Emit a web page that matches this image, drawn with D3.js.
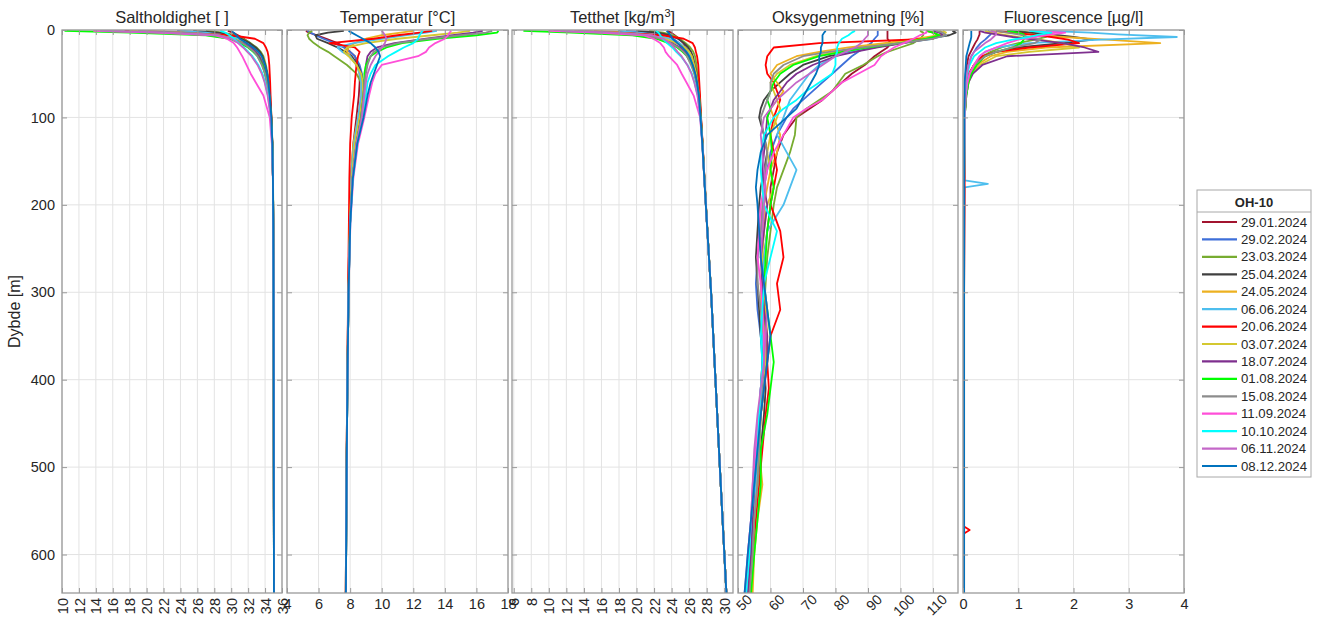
<!DOCTYPE html>
<html>
<head>
<meta charset="utf-8">
<script src="https://cdn.jsdelivr.net/npm/d3@7"></script>
<style>
  body { margin: 0; background: #fff; }
  text { font-family: "Liberation Sans", Arial, sans-serif; fill: #262626; }
</style>
</head>
<body>
<svg id="chart" width="1320" height="623"></svg>
<script>
// ---- data ----
const casts = ["29.01.2024", "29.02.2024", "23.03.2024", "25.04.2024", "24.05.2024", "06.06.2024",
  "20.06.2024", "03.07.2024", "18.07.2024", "01.08.2024", "15.08.2024", "11.09.2024",
  "10.10.2024", "06.11.2024", "08.12.2024"];
const castColors = ["#A2142F", "#3E6FD9", "#77AC30", "#404040", "#EDB120", "#4DBEEE",
  "#FF0000", "#D4C830", "#7E2F8E", "#00FF00", "#8C8C8C", "#FF4FD8",
  "#00FFFF", "#C467C8", "#0072BD"];

const depthTicks = [0, 100, 200, 300, 400, 500, 600];
const salinityTicks = [10, 12, 14, 16, 18, 20, 22, 24, 26, 28, 30, 32, 34, 36];
const temperatureTicks = [4, 6, 8, 10, 12, 14, 16, 18];
const densityTicks = [6, 8, 10, 12, 14, 16, 18, 20, 22, 24, 26, 28, 30];
const oxygenTicks = [50, 60, 70, 80, 90, 100, 110];
const fluorTicks = [0, 1, 2, 3, 4];

// depth levels (m) for salinity, temperature and density
const profileDepth = [1, 3, 6, 10, 15, 20, 25, 30, 40, 50, 60, 75, 100, 130, 170, 220, 300, 400, 500, 645];

const salinity = [
  [29.6, 30.2, 30.8, 31.5, 32.2, 32.7, 33.1, 33.4, 33.8, 34.1, 34.3, 34.5, 34.72, 34.85, 34.93, 34.97, 35.0, 35.02, 35.03, 35.05],
  [23.6, 27.5, 29.5, 30.6, 31.6, 32.3, 32.9, 33.3, 33.8, 34.1, 34.3, 34.5, 34.72, 34.86, 34.93, 34.97, 35.0, 35.02, 35.03, 35.05],
  [27.0, 29.0, 30.5, 31.4, 32.3, 33.0, 33.5, 33.8, 34.1, 34.3, 34.45, 34.6, 34.76, 34.87, 34.94, 34.98, 35.0, 35.02, 35.03, 35.05],
  [25.5, 28.5, 30.0, 31.2, 32.2, 32.9, 33.4, 33.7, 34.0, 34.25, 34.4, 34.55, 34.74, 34.86, 34.93, 34.97, 35.0, 35.02, 35.03, 35.05],
  [20.0, 25.5, 28.8, 30.5, 31.5, 32.3, 32.8, 33.2, 33.7, 34.0, 34.2, 34.45, 34.7, 34.85, 34.93, 34.97, 35.0, 35.02, 35.03, 35.05],
  [24.0, 27.0, 29.2, 30.8, 31.8, 32.5, 33.0, 33.3, 33.7, 34.0, 34.2, 34.45, 34.7, 34.85, 34.93, 34.97, 35.0, 35.02, 35.03, 35.05],
  [17.4, 24.0, 30.0, 32.8, 33.8, 34.1, 34.3, 34.4, 34.5, 34.55, 34.6, 34.65, 34.75, 34.86, 34.93, 34.97, 35.0, 35.02, 35.03, 35.05],
  [18.0, 24.5, 28.5, 30.3, 31.6, 32.5, 33.1, 33.5, 33.9, 34.2, 34.35, 34.5, 34.72, 34.85, 34.93, 34.97, 35.0, 35.02, 35.03, 35.05],
  [15.0, 22.0, 27.5, 30.0, 31.4, 32.3, 32.9, 33.3, 33.8, 34.1, 34.3, 34.5, 34.72, 34.85, 34.93, 34.97, 35.0, 35.02, 35.03, 35.05],
  [10.3, 18.0, 27.0, 29.8, 31.0, 32.0, 32.6, 33.1, 33.7, 34.0, 34.25, 34.5, 34.72, 34.85, 34.93, 34.97, 35.0, 35.02, 35.03, 35.05],
  [19.0, 25.0, 28.5, 30.2, 31.3, 32.1, 32.7, 33.1, 33.6, 34.0, 34.2, 34.45, 34.7, 34.85, 34.93, 34.97, 35.0, 35.02, 35.03, 35.05],
  [13.7, 21.0, 28.0, 29.5, 30.3, 30.7, 31.0, 31.3, 31.8, 32.3, 32.9, 33.8, 34.55, 34.8, 34.92, 34.97, 35.0, 35.02, 35.03, 35.05],
  [28.7, 29.3, 29.8, 30.3, 30.9, 31.5, 32.0, 32.5, 33.2, 33.7, 34.0, 34.35, 34.68, 34.84, 34.93, 34.97, 35.0, 35.02, 35.03, 35.05],
  [14.5, 22.0, 28.3, 30.0, 30.8, 31.4, 31.9, 32.4, 33.1, 33.6, 33.95, 34.3, 34.66, 34.84, 34.93, 34.97, 35.0, 35.02, 35.03, 35.05],
  [30.0, 30.3, 30.6, 31.0, 31.8, 32.6, 33.2, 33.6, 34.0, 34.25, 34.4, 34.55, 34.74, 34.86, 34.93, 34.97, 35.0, 35.02, 35.03, 35.05]
];

const temperature = [
  [5.2, 5.4, 5.9, 6.5, 7.2, 7.7, 8.0, 8.3, 8.5, 8.6, 8.6, 8.55, 8.4, 8.2, 8.05, 7.96, 7.88, 7.82, 7.77, 7.72],
  [5.3, 5.5, 5.8, 6.3, 7.0, 7.6, 8.0, 8.3, 8.6, 8.75, 8.8, 8.75, 8.55, 8.3, 8.1, 7.98, 7.9, 7.83, 7.78, 7.73],
  [5.6, 5.4, 5.3, 5.4, 5.7, 6.1, 6.6, 7.0, 7.8, 8.4, 8.7, 8.8, 8.7, 8.4, 8.15, 8.0, 7.9, 7.83, 7.78, 7.73],
  [7.6, 6.6, 5.8, 5.9, 6.6, 7.2, 7.7, 8.1, 8.5, 8.7, 8.8, 8.8, 8.6, 8.3, 8.1, 7.98, 7.9, 7.83, 7.78, 7.73],
  [12.0, 11.2, 10.0, 9.0, 8.3, 7.9, 7.8, 8.0, 8.4, 8.6, 8.7, 8.7, 8.5, 8.2, 8.05, 7.96, 7.88, 7.82, 7.77, 7.72],
  [13.5, 12.8, 11.5, 10.0, 8.2, 7.2, 7.5, 8.0, 8.4, 8.6, 8.7, 8.7, 8.5, 8.25, 8.05, 7.96, 7.88, 7.82, 7.77, 7.72],
  [13.2, 12.4, 11.0, 9.5, 6.7, 8.3, 8.6, 8.5, 8.4, 8.35, 8.3, 8.25, 8.1, 8.0, 7.95, 7.92, 7.87, 7.82, 7.77, 7.72],
  [15.6, 14.8, 13.2, 11.0, 9.0, 7.8, 7.6, 7.9, 8.4, 8.7, 8.8, 8.8, 8.6, 8.3, 8.1, 7.98, 7.9, 7.83, 7.78, 7.73],
  [16.4, 15.8, 14.5, 12.8, 10.8, 9.7, 9.3, 9.1, 9.0, 8.95, 8.9, 8.85, 8.7, 8.4, 8.15, 8.0, 7.9, 7.83, 7.78, 7.73],
  [17.4, 17.3, 16.0, 13.5, 11.3, 10.3, 9.7, 9.3, 9.0, 8.9, 8.9, 8.85, 8.7, 8.4, 8.15, 8.0, 7.9, 7.83, 7.78, 7.73],
  [17.0, 16.6, 15.0, 13.0, 11.0, 10.0, 9.5, 9.3, 9.1, 9.0, 8.9, 8.85, 8.7, 8.4, 8.15, 8.0, 7.9, 7.83, 7.78, 7.73],
  [14.4, 14.3, 14.2, 14.0, 13.4, 13.0, 12.8, 12.3, 10.0, 9.6, 9.4, 9.2, 8.9, 8.5, 8.2, 8.02, 7.9, 7.83, 7.78, 7.73],
  [12.6, 12.5, 12.4, 12.3, 12.0, 11.4, 10.9, 10.4, 9.6, 9.3, 9.1, 9.0, 8.8, 8.45, 8.17, 8.01, 7.9, 7.83, 7.78, 7.73],
  [10.0, 10.1, 10.2, 10.3, 10.2, 10.0, 9.8, 9.6, 9.3, 9.1, 9.0, 8.9, 8.75, 8.4, 8.15, 8.0, 7.9, 7.83, 7.78, 7.73],
  [7.9, 8.1, 8.4, 8.8, 9.3, 9.6, 9.8, 9.9, 9.7, 9.5, 9.3, 9.1, 8.85, 8.45, 8.17, 8.01, 7.9, 7.83, 7.78, 7.73]
];

const density = [
  [23.5, 23.95, 24.35, 24.87, 25.33, 25.67, 25.95, 26.16, 26.47, 26.73, 26.93, 27.12, 27.32, 27.52, 27.74, 28.02, 28.5, 29.0, 29.5, 30.25],
  [18.8, 21.84, 23.38, 24.19, 24.89, 25.36, 25.79, 26.08, 26.45, 26.72, 26.9, 27.14, 27.33, 27.52, 27.74, 28.02, 28.5, 29.0, 29.5, 30.25],
  [21.43, 23.02, 24.22, 24.93, 25.61, 26.13, 26.47, 26.67, 26.83, 26.93, 27.04, 27.21, 27.35, 27.53, 27.75, 28.03, 28.5, 29.0, 29.5, 30.25],
  [19.97, 22.47, 23.77, 24.71, 25.42, 25.89, 26.22, 26.43, 26.63, 26.85, 26.98, 27.17, 27.34, 27.53, 27.74, 28.02, 28.5, 29.0, 29.5, 30.25],
  [15.15, 19.5, 22.24, 23.68, 24.61, 25.31, 25.74, 26.05, 26.42, 26.66, 26.85, 27.11, 27.32, 27.52, 27.74, 28.02, 28.5, 29.0, 29.5, 30.25],
  [17.88, 20.29, 22.26, 23.72, 24.85, 25.58, 25.95, 26.13, 26.42, 26.66, 26.85, 27.11, 27.32, 27.52, 27.74, 28.02, 28.5, 29.0, 29.5, 30.25],
  [12.96, 18.12, 22.97, 25.38, 26.4, 26.66, 26.77, 26.9, 27.04, 27.1, 27.16, 27.24, 27.36, 27.54, 27.75, 28.03, 28.5, 29.0, 29.5, 30.25],
  [12.91, 17.96, 21.35, 23.2, 24.56, 25.49, 26.01, 26.31, 26.57, 26.81, 26.94, 27.13, 27.32, 27.52, 27.74, 28.02, 28.5, 29.0, 29.5, 30.25],
  [10.53, 15.87, 20.3, 22.59, 24.04, 24.99, 25.56, 25.93, 26.38, 26.68, 26.88, 27.12, 27.31, 27.51, 27.73, 28.02, 28.5, 29.0, 29.5, 30.25],
  [7.1, 12.53, 19.52, 22.27, 23.63, 24.64, 25.25, 25.75, 26.31, 26.61, 26.85, 27.12, 27.31, 27.51, 27.73, 28.02, 28.5, 29.0, 29.5, 30.25],
  [13.33, 17.87, 20.91, 22.7, 23.92, 24.78, 25.37, 25.75, 26.21, 26.59, 26.81, 27.08, 27.3, 27.51, 27.73, 28.02, 28.5, 29.0, 29.5, 30.25],
  [9.96, 15.45, 20.74, 21.93, 22.7, 23.12, 23.31, 23.69, 24.63, 25.15, 25.7, 26.51, 27.25, 27.49, 27.72, 28.01, 28.5, 29.0, 29.5, 30.25],
  [22.2, 22.5, 22.7, 23.0, 23.48, 24.08, 24.53, 25.05, 25.81, 26.31, 26.61, 26.97, 27.28, 27.5, 27.73, 28.02, 28.5, 29.0, 29.5, 30.25],
  [11.31, 17.02, 21.83, 23.11, 23.77, 24.29, 24.68, 25.14, 25.78, 26.26, 26.59, 26.95, 27.27, 27.5, 27.73, 28.02, 28.5, 29.0, 29.5, 30.25],
  [23.43, 23.64, 23.85, 24.11, 24.66, 25.25, 25.7, 26.01, 26.41, 26.7, 26.89, 27.11, 27.3, 27.5, 27.73, 28.02, 28.5, 29.0, 29.5, 30.25]
];

// oxygen saturation (%) has its own, denser depth levels
const oxygenDepth = [1, 3, 6, 10, 15, 20, 25, 30, 40, 50, 60, 70, 80, 90, 100, 120, 140, 160, 180, 200,
  230, 260, 290, 320, 350, 380, 410, 440, 480, 520, 560, 600, 645];
const oxygen = [
  [96, 96, 96, 96, 97, 96, 94, 92, 89, 85, 82, 79, 76, 72, 68, 64, 62, 61, 60, 60, 59, 58, 57, 57.5, 58, 57.5, 57, 56.5, 56, 55.5, 55, 54, 53],
  [93, 93, 93, 92, 91, 89, 87, 85, 82, 79, 76, 73, 70, 67, 65, 62, 60, 59, 58, 58, 57, 56, 55.5, 56, 57, 57.5, 57, 56.5, 55.5, 55, 54.5, 53.5, 52.5],
  [106, 107, 107, 106, 104, 100, 96, 93, 88.5, 83, 81, 79, 75, 71, 68, 67.5, 66, 64, 62, 61, 60, 59, 58.5, 58, 58.5, 59, 58, 57, 56.5, 56, 55, 54, 53.5],
  [116, 117, 115, 108, 100, 92, 85, 78, 70, 66, 63, 60, 58, 57, 56.5, 58, 59, 58, 57, 56.5, 56, 55.5, 56, 56.5, 57, 58, 58.5, 58, 57, 56, 55, 54, 53.5],
  [112, 113, 112, 105, 95, 84, 75, 68, 62, 60, 62, 64, 62, 60, 61, 63, 62, 60, 59, 58, 58, 57, 58, 58.5, 59, 58.5, 58, 57, 56.5, 57.5, 56, 55, 54.5],
  [110, 112, 114, 110, 100, 90, 84, 80, 75, 72, 70, 68, 66, 65, 64, 62, 65, 68, 66, 64, 59, 58, 57.5, 57, 57.5, 58, 57.5, 56.5, 56, 55.5, 55, 54, 53],
  [108, 110, 112, 110, 75, 61, 60, 59, 58.5, 59, 61, 62, 63, 62, 61, 60, 61, 62, 61, 60, 63, 64, 62, 63, 60, 59, 59.5, 58.5, 57.5, 56.5, 55.5, 54.5, 53.5],
  [113, 114, 113, 108, 98, 88, 80, 74, 66, 62, 60, 61, 62, 63, 62, 60, 59, 60, 61, 59, 58, 57.5, 57, 57, 58, 58.5, 58, 57, 56.5, 56, 55, 54.5, 54],
  [110, 112, 113, 109, 101, 93, 86, 80, 73, 68, 65, 63, 61, 60, 59, 58.5, 58, 57.5, 58, 59, 58, 57, 57.5, 58, 59, 59, 58, 57, 56, 55, 54.5, 54, 53],
  [108, 110, 112, 108, 100, 90, 82, 75, 67, 63, 61, 60, 59, 60, 59, 60, 60.5, 60, 61, 60, 59, 58.5, 58, 59, 60, 61, 60, 59, 57, 57, 56, 55, 54],
  [111, 113, 114, 110, 100, 88, 78, 70, 64, 61, 60, 60, 59, 58, 57, 58, 59, 58.5, 58, 57.5, 57, 56, 56, 57, 58, 58, 57.5, 57, 56.5, 56, 55, 54.5, 53.5],
  [108, 108, 106, 104, 101, 98, 96, 94, 92, 87, 82, 79, 76, 71, 67, 64, 61, 59, 58, 57, 56.5, 56, 57, 57.5, 58, 58, 57, 56.5, 55.5, 54.5, 54, 53, 52.5],
  [86, 85, 84, 82, 81, 80.5, 80.5, 80, 80, 79, 75, 71, 68, 64, 61, 58, 57, 57, 57.5, 58, 62, 60, 58, 57.5, 57, 57.5, 57, 56.5, 56, 55, 54, 53.5, 52.5],
  [90, 90, 90, 89, 88, 86, 83, 80, 76, 72, 68, 65, 62, 60, 58, 57, 57.5, 58, 58.5, 58, 57.5, 57, 58, 59, 58.5, 58, 57, 56, 55, 54.5, 54, 53, 52],
  [77, 76.5, 76, 76, 76, 75.5, 75.5, 75, 75, 74, 72.5, 71, 69.5, 68, 65, 59, 57, 56, 55.5, 56, 56.5, 57, 58, 59, 60, 59, 58, 57, 56, 55, 54, 53, 52]
];

// fluorescence (µg/l) depth levels include the two isolated spikes at depth
const fluorDepth = [1, 3, 5, 8, 11, 15, 20, 25, 30, 40, 50, 60, 75, 100, 172, 176, 180, 300, 568, 572, 576, 645];
const fluorescence = [
  [0.3, 0.3, 0.3, 0.28, 0.26, 0.22, 0.18, 0.14, 0.1, 0.07, 0.05, 0.04, 0.03, 0.02, 0.02, 0.02, 0.02, 0.02, 0.02, 0.02, 0.02, 0.02],
  [0.45, 0.5, 0.5, 0.45, 0.4, 0.32, 0.25, 0.2, 0.15, 0.1, 0.07, 0.05, 0.04, 0.03, 0.02, 0.02, 0.02, 0.02, 0.02, 0.02, 0.02, 0.02],
  [1.0, 1.2, 1.4, 1.5, 1.3, 1.0, 0.7, 0.5, 0.35, 0.2, 0.12, 0.08, 0.05, 0.03, 0.02, 0.02, 0.02, 0.02, 0.02, 0.02, 0.02, 0.02],
  [0.8, 1.2, 1.6, 2.0, 2.35, 1.8, 1.0, 0.6, 0.4, 0.2, 0.12, 0.08, 0.05, 0.03, 0.02, 0.02, 0.02, 0.02, 0.02, 0.02, 0.02, 0.02],
  [0.5, 0.8, 1.2, 1.8, 2.6, 3.57, 1.5, 0.8, 0.5, 0.25, 0.12, 0.08, 0.05, 0.03, 0.02, 0.02, 0.02, 0.02, 0.02, 0.02, 0.02, 0.02],
  [1.5, 2.3, 2.8, 3.87, 2.5, 1.2, 0.6, 0.4, 0.3, 0.2, 0.12, 0.08, 0.05, 0.03, 0.03, 0.45, 0.03, 0.02, 0.02, 0.02, 0.02, 0.02],
  [0.6, 0.9, 1.2, 1.6, 1.9, 2.1, 1.2, 0.6, 0.35, 0.2, 0.1, 0.07, 0.05, 0.03, 0.03, 0.03, 0.03, 0.02, 0.02, 0.12, 0.02, 0.02],
  [0.4, 0.5, 0.7, 1.0, 1.4, 1.8, 2.1, 1.2, 0.6, 0.3, 0.15, 0.1, 0.06, 0.03, 0.02, 0.02, 0.02, 0.02, 0.02, 0.02, 0.02, 0.02],
  [0.3, 0.4, 0.6, 0.9, 1.3, 1.8, 2.2, 2.45, 0.8, 0.35, 0.18, 0.1, 0.06, 0.03, 0.02, 0.02, 0.02, 0.02, 0.02, 0.02, 0.02, 0.02],
  [0.8, 1.0, 1.1, 1.1, 1.1, 1.05, 0.9, 0.6, 0.4, 0.25, 0.15, 0.1, 0.06, 0.03, 0.02, 0.02, 0.02, 0.02, 0.02, 0.02, 0.02, 0.02],
  [0.6, 0.8, 1.0, 1.2, 1.4, 1.3, 0.9, 0.6, 0.4, 0.2, 0.12, 0.08, 0.05, 0.03, 0.02, 0.02, 0.02, 0.02, 0.02, 0.02, 0.02, 0.02],
  [1.2, 1.85, 1.6, 1.3, 1.0, 0.8, 0.6, 0.4, 0.3, 0.2, 0.12, 0.08, 0.05, 0.03, 0.02, 0.02, 0.02, 0.02, 0.02, 0.02, 0.02, 0.02],
  [1.2, 1.6, 1.4, 1.2, 0.9, 0.6, 0.4, 0.3, 0.2, 0.12, 0.08, 0.05, 0.04, 0.03, 0.02, 0.02, 0.02, 0.02, 0.02, 0.02, 0.02, 0.02],
  [0.5, 0.6, 0.6, 0.55, 0.5, 0.4, 0.3, 0.2, 0.15, 0.1, 0.07, 0.05, 0.04, 0.03, 0.02, 0.02, 0.02, 0.02, 0.02, 0.02, 0.02, 0.02],
  [0.15, 0.15, 0.15, 0.15, 0.14, 0.12, 0.1, 0.08, 0.06, 0.05, 0.04, 0.03, 0.03, 0.02, 0.02, 0.02, 0.02, 0.02, 0.02, 0.02, 0.02, 0.02]
];

// ---- layout ----
const plotTop = 30, plotBottom = 593;
const gridColor = "#e3e3e3", boxColor = "#9a9a9a";

const panels = [
  { title: "Saltholdighet [ ]", x0: 62, x1: 282, domain: [10, 36], ticks: salinityTicks, rot: -90, depth: profileDepth, values: salinity },
  { title: "Temperatur [°C]", x0: 287, x1: 508, domain: [4, 18], ticks: temperatureTicks, rot: 0, depth: profileDepth, values: temperature },
  { title: "Tetthet [kg/m", sup: "3", x0: 512, x1: 733, domain: [5.8, 31], ticks: densityTicks, rot: -90, depth: profileDepth, values: density },
  { title: "Oksygenmetning [%]", x0: 738, x1: 958, domain: [50, 117.7], ticks: oxygenTicks, rot: -45, depth: oxygenDepth, values: oxygen },
  { title: "Fluorescence [µg/l]", x0: 963, x1: 1184, domain: [0, 4], ticks: fluorTicks, rot: 0, depth: fluorDepth, values: fluorescence }
];

const svg = d3.select("#chart");
const y = d3.scaleLinear().domain([0, 644]).range([plotTop, plotBottom]);

panels.forEach((p, pi) => {
  const x = d3.scaleLinear().domain(p.domain).range([p.x0, p.x1]);
  const g = svg.append("g");

  // grid
  g.selectAll(".vgrid").data(p.ticks).enter().append("line")
    .attr("x1", d => x(d)).attr("x2", d => x(d))
    .attr("y1", plotTop).attr("y2", plotBottom)
    .attr("stroke", gridColor).attr("stroke-width", 1);
  g.selectAll(".hgrid").data(depthTicks).enter().append("line")
    .attr("x1", p.x0).attr("x2", p.x1)
    .attr("y1", d => y(d)).attr("y2", d => y(d))
    .attr("stroke", gridColor).attr("stroke-width", 1);

  // profiles
  const clipId = "clip" + pi;
  svg.append("clipPath").attr("id", clipId).append("rect")
    .attr("x", p.x0).attr("y", plotTop).attr("width", p.x1 - p.x0).attr("height", plotBottom - plotTop);
  const line = d3.line()
    .x(d => x(d[0]))
    .y(d => y(d[1]));
  g.append("g").attr("clip-path", `url(#${clipId})`)
    .selectAll("path")
    .data(p.values)
    .enter()
    .append("path")
    .attr("d", vals => line(vals.map((v, i) => [v, p.depth[i]])))
    .attr("fill", "none")
    .attr("stroke", (d, i) => castColors[i])
    .attr("stroke-width", 1.8)
    .attr("stroke-linejoin", "round");

  // ticks (inward) on all four sides
  const axB = g.append("g").attr("transform", `translate(0,${plotBottom})`)
    .call(d3.axisBottom(x).tickValues(p.ticks).tickSize(-5).tickPadding(6).tickFormat(d3.format("d")));
  g.append("g").attr("transform", `translate(0,${plotTop})`)
    .call(d3.axisTop(x).tickValues(p.ticks).tickSize(-5).tickFormat(""));
  g.append("g").attr("transform", `translate(${p.x0},0)`)
    .call(d3.axisLeft(y).tickValues(depthTicks).tickSize(-5).tickPadding(7)
      .tickFormat(pi === 0 ? d3.format("d") : ""));
  g.append("g").attr("transform", `translate(${p.x1},0)`)
    .call(d3.axisRight(y).tickValues(depthTicks).tickSize(-5).tickFormat(""));

  g.selectAll(".domain").remove();
  g.selectAll(".tick line").attr("stroke", boxColor);
  g.selectAll(".tick text").attr("font-size", "14.5px").attr("fill", "#262626")
    .attr("font-family", "Liberation Sans, Arial, sans-serif");

  if (p.rot === -90) {
    axB.selectAll(".tick text")
      .attr("x", 0).attr("y", 0).attr("dy", "0.35em")
      .attr("text-anchor", "end")
      .attr("transform", "translate(0,5) rotate(-90)");
  } else if (p.rot === -45) {
    axB.selectAll(".tick text")
      .attr("x", 0).attr("y", 0).attr("dy", "0.35em")
      .attr("font-size", "14px")
      .attr("text-anchor", "end")
      .attr("transform", "translate(11,4) rotate(-45)");
  }

  // box
  g.append("rect")
    .attr("x", p.x0).attr("y", plotTop)
    .attr("width", p.x1 - p.x0).attr("height", plotBottom - plotTop)
    .attr("fill", "none").attr("stroke", boxColor).attr("stroke-width", 1.3);

  // title
  const t = g.append("text")
    .attr("x", (p.x0 + p.x1) / 2).attr("y", 23)
    .attr("text-anchor", "middle")
    .attr("font-size", "16.5px")
    .text(p.title);
  if (p.sup) {
    t.append("tspan").attr("font-size", "11px").attr("dy", "-6").text(p.sup);
    t.append("tspan").attr("dy", "6").text("]");
  }
});

// y axis label
svg.append("text")
  .attr("transform", `translate(20,${(plotTop + plotBottom) / 2}) rotate(-90)`)
  .attr("text-anchor", "middle")
  .attr("font-size", "16px")
  .text("Dybde [m]");

// legend
const lg = svg.append("g");
const legX = 1197, legY = 190, legW = 114, legH = 287;
lg.append("rect").attr("x", legX).attr("y", legY).attr("width", legW).attr("height", legH)
  .attr("fill", "#fff").attr("stroke", "#a8a8a8").attr("stroke-width", 1);
lg.append("text").attr("x", legX + legW / 2).attr("y", 202).attr("dy", "0.35em")
  .attr("text-anchor", "middle").attr("font-weight", "bold").attr("font-size", "13px")
  .text("OH-10");
lg.append("line").attr("x1", legX).attr("x2", legX + legW).attr("y1", 212).attr("y2", 212)
  .attr("stroke", "#a8a8a8");
const ly = d3.scalePoint().domain(casts).range([222, 466]);
const item = lg.selectAll(".item").data(casts).enter().append("g")
  .attr("transform", d => `translate(0,${ly(d)})`);
item.append("line").attr("x1", 1202).attr("x2", 1237).attr("y1", 0).attr("y2", 0)
  .attr("stroke", (d, i) => castColors[i]).attr("stroke-width", 2.2);
item.append("text").attr("x", 1241).attr("dy", "0.35em").attr("font-size", "13.2px").text(d => d);
</script>
</body>
</html>
